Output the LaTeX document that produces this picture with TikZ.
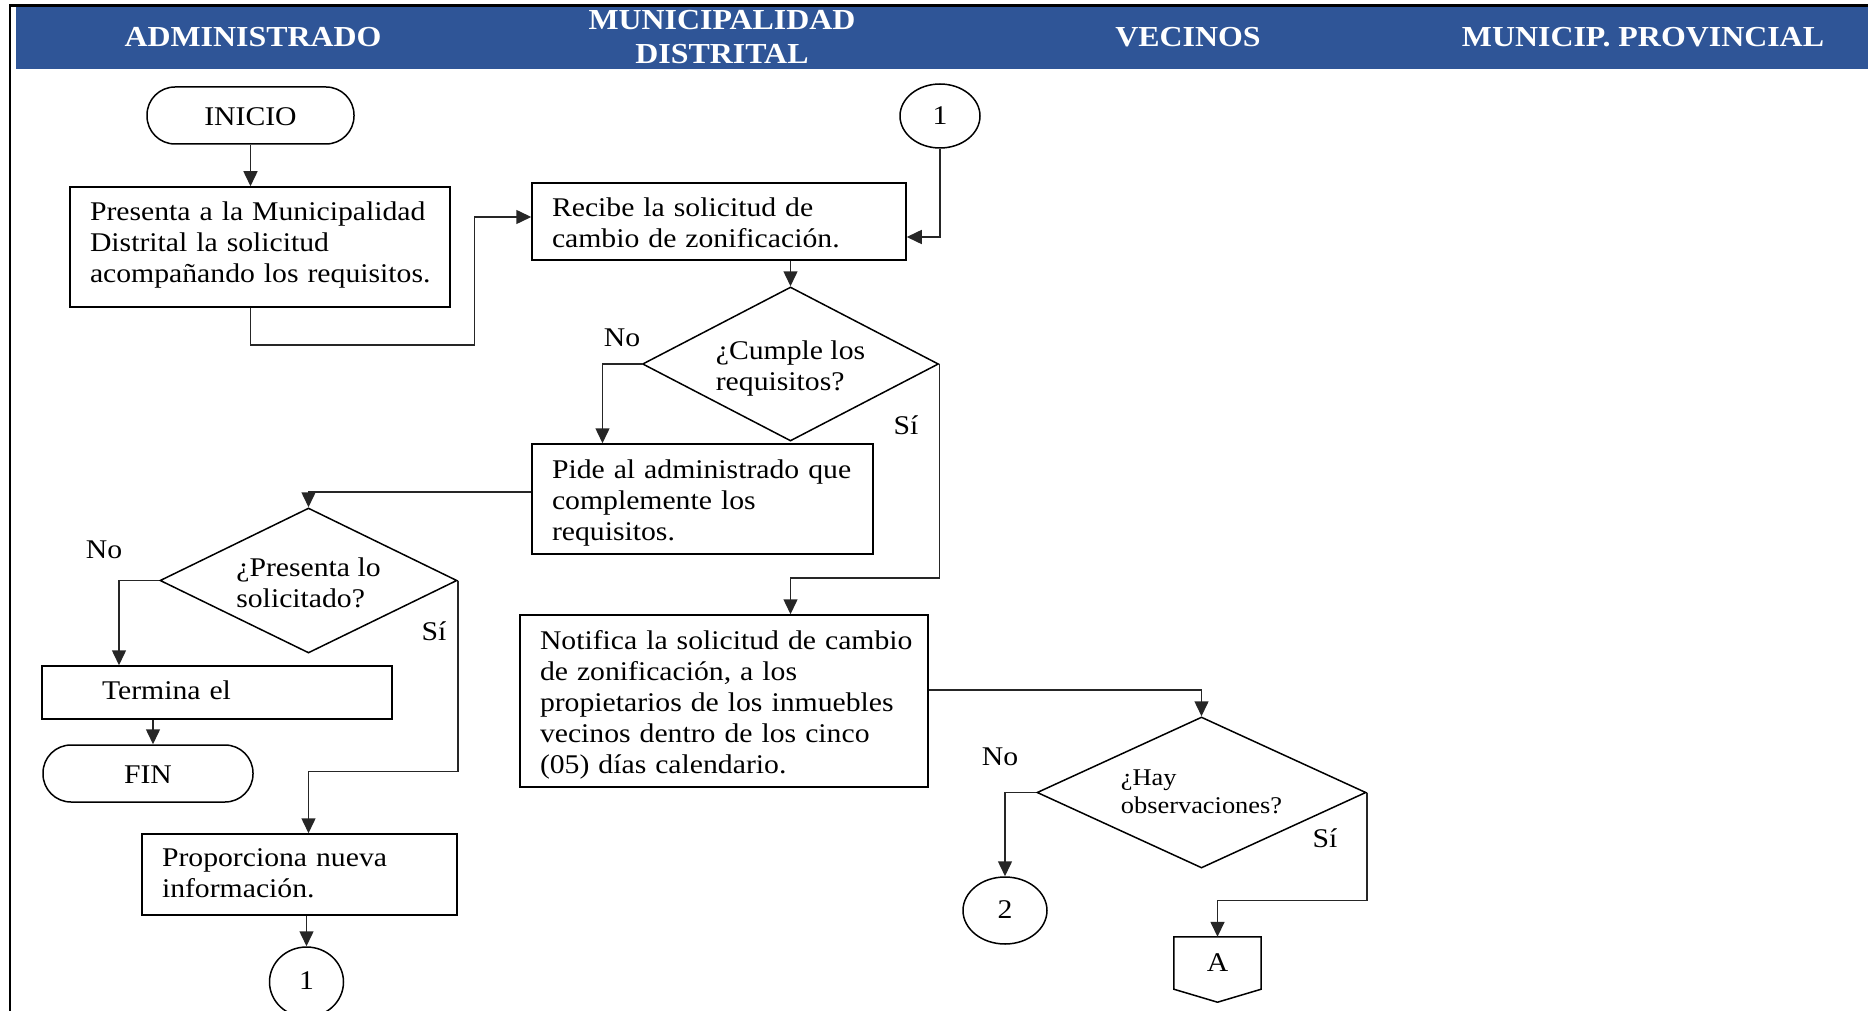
\documentclass[tikz,border=0pt]{standalone}
\usepackage{fontspec}
\setmainfont{Liberation Serif}[FakeStretch=1.1]
\usetikzlibrary{arrows.meta,shapes.geometric,calc}
\definecolor{hdrblue}{RGB}{47,85,151}
\newcommand\bodyf{\fontsize{27}{31}\selectfont}
\newcommand\smallf{\fontsize{24}{28}\selectfont}
\newcommand\hdrf{\fontsize{29}{34}\selectfont\bfseries}
\newcommand\txtl[2][4pt]{\raisebox{-#1}[\height][\depth]{\begin{tabular}{@{}l@{}}#2\end{tabular}}}
\begin{document}
\begin{tikzpicture}[x=1pt,y=-1pt,
  line/.style={line width=1.5pt, draw=black!85},
  arr/.style={line, -{Triangle[length=15pt,width=14pt]}},
  proc/.style={draw, line width=1.5pt, rectangle, inner xsep=20pt, inner ysep=0pt, align=left, font=\bodyf},
  term/.style={draw, line width=1.5pt, rectangle, rounded corners=28pt, font=\bodyf, inner sep=0pt},
  dec/.style={draw, line width=1.5pt, diamond, inner sep=0pt, font=\bodyf},
  conn/.style={draw, line width=1.5pt, ellipse, inner sep=0pt, font=\bodyf},
  lbl/.style={font=\bodyf, inner sep=0pt},
  hdr/.style={font=\hdrf, text=white, inner sep=0pt, align=center}]

\useasboundingbox (0,0) rectangle (1871,1011);
\fill[hdrblue] (16,7) rectangle (1868,69);
\draw[line width=2.5pt] (10,1011) -- (10,5.5) -- (1868,5.5);

% headers
\node[hdr] (h1) at (253,37) {ADMINISTRADO};
\node[hdr] (h2) at (722,37) {MUNICIPALIDAD\\DISTRITAL};
\node[hdr] (h3) at (1188,37) {VECINOS};
\node[hdr] (h4) at (1643,37) {MUNICIP. PROVINCIAL};

% nodes
\node[term, minimum width=207pt, minimum height=57pt] (inicio) at (250.5,115.5) {\txtl{INICIO}};
\node[proc, minimum height=120pt, text width=340pt] (presenta) at (260,247)
  {\txtl[-2pt]{Presenta a la Municipalidad\\Distrital la solicitud\\acompañando los requisitos.}};
\node[proc, minimum height=77pt, text width=334pt] (recibe) at (719,221.5)
  {\txtl{Recibe la solicitud de\\cambio de zonificación.}};
\node[conn, minimum width=80pt, minimum height=64pt] (c1) at (940,116) {\txtl[2pt]{1}};
\node[dec, aspect=1.9, minimum width=296pt, minimum height=154pt] (d1) at (790.5,364)
  {\txtl[5pt]{¿Cumple los\\requisitos?}};
\node[proc, minimum height=110pt, text width=301pt] (pide) at (702.5,499)
  {\txtl{Pide al administrado que\\complemente los\\requisitos.}};
\node[dec, aspect=2.05, minimum width=297pt, minimum height=145pt] (d2) at (308.5,580.5)
  {\txtl[5pt]{¿Presenta lo\\solicitado?}};
\node[proc, inner xsep=60pt, minimum height=53pt, text width=230pt] (termina) at (217,692.5)
  {\txtl[1pt]{Termina el}};
\node[term, minimum width=210pt, minimum height=57pt] (fin) at (148,773.5) {\txtl{FIN}};
\node[proc, minimum height=81pt, text width=275pt] (prop) at (299.5,874.5)
  {\txtl[1pt]{Proporciona nueva\\información.}};
\node[conn, minimum width=74pt, minimum height=70pt] (c1b) at (306.5,982) {\txtl[1pt]{1}};
\node[proc, minimum height=172pt, text width=368pt] (notif) at (724,701)
  {\txtl{Notifica la solicitud de cambio\\de zonificación, a los\\propietarios de los inmuebles\\vecinos dentro de los cinco\\(05) días calendario.}};
\node[dec, aspect=2.2, minimum width=329pt, minimum height=151pt, font=\smallf] (d3) at (1201.5,792.5)
  {\txtl[1pt]{¿Hay\\observaciones?}};
\node[conn, minimum width=84pt, minimum height=67pt] (c2) at (1005,910.5) {\txtl[2pt]{2}};
\node[font=\bodyf, minimum width=87pt, minimum height=52pt, inner sep=0pt] (offA) at (1217.5,963) {A};
\draw[line width=1.5pt] (offA.north west) -- (offA.north east) -- (offA.south east)
  -- ([yshift=-13pt]offA.south) -- (offA.south west) -- cycle;

% labels
\node[lbl] (no1) at (622,338) {No};
\node[lbl] (si1) at (906,425) {Sí};
\node[lbl] (no2) at (104,550) {No};
\node[lbl] (si2) at (434,631) {Sí};
\node[lbl] (no3) at (1000,757) {No};
\node[lbl] (si3) at (1325,838) {Sí};

% connectors
\draw[arr] (inicio.south) -- (inicio.south |- presenta.north);
\draw[arr] (inicio.south |- presenta.south) -- ++(0,37) -- ++(224,0) |- ([yshift=4.5pt]recibe.west);
\draw[arr] (c1.south) |- ([yshift=-15.5pt]recibe.east);
\draw[arr] (d1.north |- recibe.south) -- (d1.north);
\draw[arr] (d1.west) -| ([xshift=-100pt]pide.north);
\draw[arr] (d1.east) -- ++(0,214) -| (d1.south |- notif.north);
\draw[arr] ([yshift=7pt]pide.west) -| (d2.north);
\draw[arr] (d2.west) -| ([xshift=-98pt]termina.north);
\coordinate (finin) at ([xshift=5pt]fin.north);
\draw[arr] (finin |- termina.south) -- (finin);
\draw[arr] (d2.east) -- ++(0,191) -| (d2.south |- prop.north);
\draw[arr] (c1b.north |- prop.south) -- (c1b.north);
\draw[arr] ([yshift=11pt]notif.east) -| (d3.north);
\draw[arr] (d3.west) -| (c2.north);
\draw[arr] (d3.east) -- ++(0,108) -| (offA.north);
\end{tikzpicture}
\end{document}
